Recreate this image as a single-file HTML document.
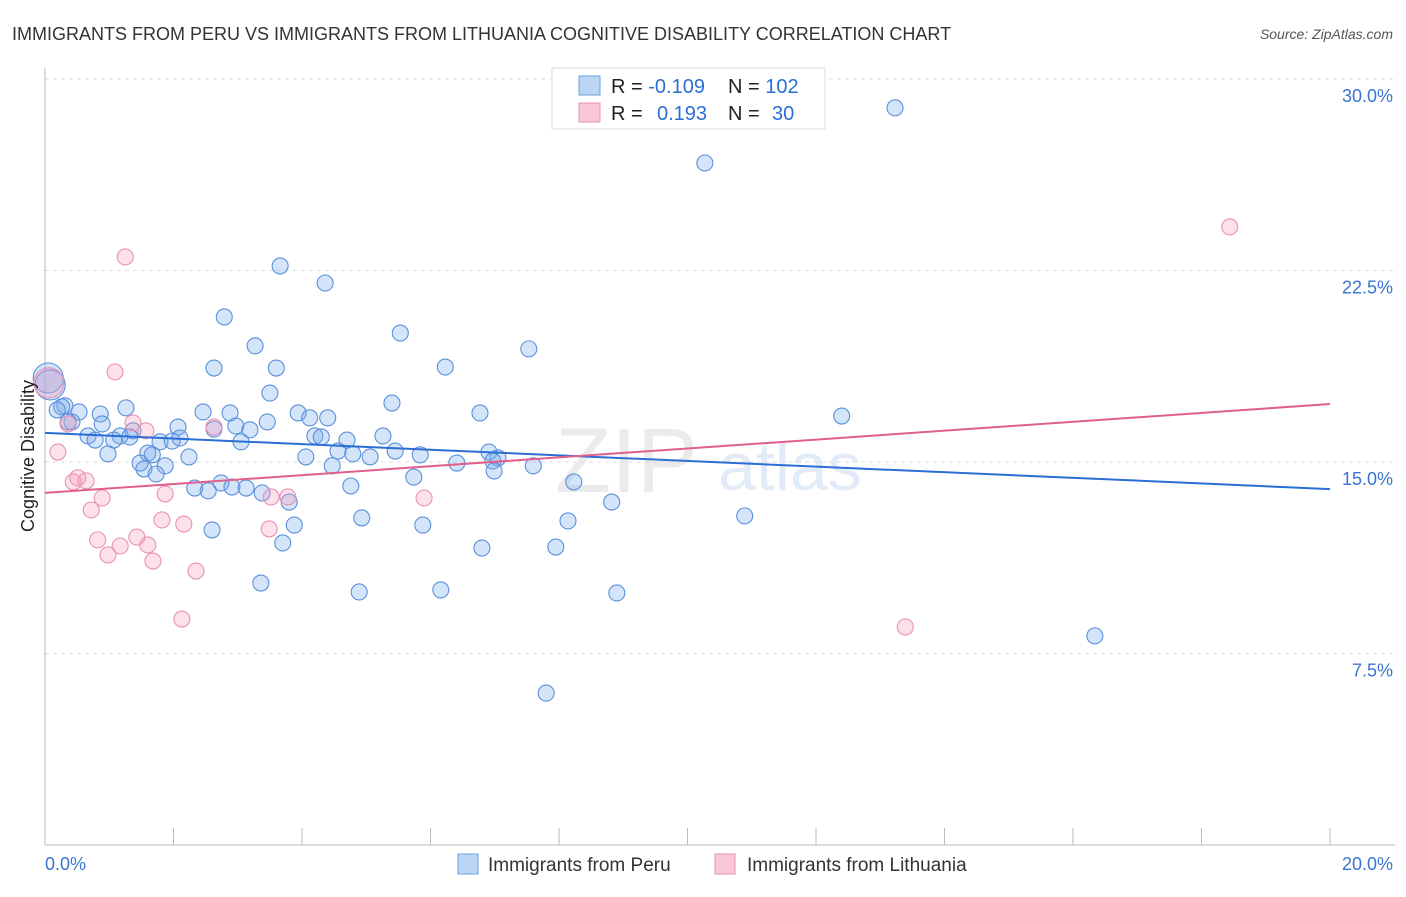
<!DOCTYPE html>
<html><head><meta charset="utf-8"><style>
body{margin:0;background:#fff;font-family:"Liberation Sans",sans-serif}
svg text{font-family:"Liberation Sans",sans-serif}
</style></head><body>
<svg id="chart" width="1406" height="892" viewBox="0 0 1406 892">
<text x="12" y="40" font-size="18" fill="#333">IMMIGRANTS FROM PERU VS IMMIGRANTS FROM LITHUANIA COGNITIVE DISABILITY CORRELATION CHART</text>
<text x="1393" y="39" font-size="14" fill="#555" font-style="italic" text-anchor="end">Source: ZipAtlas.com</text>
<g opacity="0.5">
<text x="555" y="492" font-size="92" fill="#d8d8d8" font-family="Liberation Serif">ZIP</text>
<text x="718" y="490" font-size="68" fill="#c6daf2">atlas</text>
</g>
<g id="grid"></g>
<g id="axes"></g>
<g id="points"></g>
<g id="trends"></g>
<g>
<rect x="552" y="68" width="273" height="61" fill="#fff" stroke="#ddd"/>
<rect x="579" y="76" width="21" height="19" fill="#bcd5f5" stroke="#6a9ee0"/>
<rect x="579" y="103" width="21" height="19" fill="#f8c8d6" stroke="#e890ae"/>
<text x="611" y="93" font-size="20" fill="#222">R = <tspan fill="#2a6fd6">-0.109</tspan></text>
<text x="728" y="93" font-size="20" fill="#222">N = <tspan fill="#2a6fd6">102</tspan></text>
<text x="611" y="120" font-size="20" fill="#222">R = <tspan fill="#2a6fd6" x="657">0.193</tspan></text>
<text x="728" y="120" font-size="20" fill="#222">N = <tspan fill="#2a6fd6" x="772">30</tspan></text>
</g>
<g>
<rect x="458" y="854" width="20" height="20" fill="#bcd5f5" stroke="#6a9ee0"/>
<text x="488" y="871" font-size="19" fill="#333">Immigrants from Peru</text>
<rect x="715" y="854" width="20" height="20" fill="#f8c8d6" stroke="#e890ae"/>
<text x="747" y="871" font-size="19" fill="#333">Immigrants from Lithuania</text>
</g>
<text transform="translate(34,456) rotate(-90)" font-size="18" fill="#222" text-anchor="middle">Cognitive Disability</text>
</svg>
<script>
const peruX=[13.23,10.27,3.66,4.36,2.79,5.53,3.27,7.53,2.63,3.60,6.23,3.50,5.40,1.26,0.31,0.53,0.86,6.77,12.40,2.88,2.46,3.94,4.12,4.40,3.46,2.97,2.07,2.63,3.19,0.42,0.89,1.37,1.17,0.67,0.78,1.07,1.79,1.98,2.10,3.05,4.20,4.30,4.70,5.26,1.32,0.98,1.60,1.67,2.24,4.06,4.56,4.79,5.06,5.45,5.84,6.91,7.05,6.97,6.41,7.60,1.48,1.87,1.54,1.73,4.47,5.74,6.99,8.23,4.76,2.74,2.33,2.54,2.91,3.13,3.38,3.80,8.82,10.89,4.93,8.14,3.88,5.88,2.60,3.70,6.80,7.95,3.36,4.89,6.16,8.90,16.34,7.80,0.26,0.36,0.19,0.05,0.08];
const peruY=[28.87,26.71,22.68,22.01,20.68,20.05,19.55,19.43,18.68,18.68,18.72,17.70,17.31,17.12,17.20,16.96,16.88,16.92,16.80,16.92,16.96,16.92,16.73,16.73,16.57,16.41,16.37,16.29,16.26,16.57,16.49,16.22,16.02,16.02,15.86,15.86,15.79,15.82,15.94,15.79,16.02,15.98,15.86,16.02,15.98,15.32,15.35,15.28,15.20,15.20,15.43,15.32,15.20,15.43,15.28,15.39,15.16,15.04,14.96,14.85,14.96,14.85,14.73,14.53,14.85,14.41,14.65,14.22,14.06,14.18,13.98,13.87,14.02,13.98,13.79,13.43,13.43,12.89,12.81,12.69,12.53,12.53,12.34,11.83,11.63,11.67,10.26,9.91,9.99,9.87,8.19,5.95,17.16,16.57,17.04,18.29,18.02];
const peruBig=[95,96];
const lithX=[1.25,18.44,1.09,0.06,1.37,1.57,2.63,0.36,0.20,0.51,0.44,0.64,0.89,1.87,3.52,3.78,5.90,0.72,1.82,2.16,3.49,0.82,1.43,1.17,1.60,0.98,1.68,2.35,2.13,13.39];
const lithY=[23.03,24.21,18.53,18.10,16.53,16.22,16.37,16.49,15.39,14.38,14.22,14.26,13.59,13.75,13.63,13.63,13.59,13.12,12.73,12.57,12.38,11.95,12.06,11.71,11.75,11.36,11.12,10.73,8.85,8.54];
const lithBig=[3];
const peruTrend=[16.14,13.94];
const lithTrend=[13.79,17.27];
const yTicks=[7.5,15,22.5,30];
const yTickLabels=["7.5%","15.0%","22.5%","30.0%"];
const xTicks=[0,2,4,6,8,10,12,14,16,18,20];

const NS="http://www.w3.org/2000/svg";
const X=v=>45+v*(1285/20);
const Y=v=>845-v*(766/30);
function mk(tag,attrs,parent){const e=document.createElementNS(NS,tag);for(const k in attrs)e.setAttribute(k,attrs[k]);parent.appendChild(e);return e;}
const grid=document.getElementById('grid'),axes=document.getElementById('axes'),pts=document.getElementById('points'),tr=document.getElementById('trends');
yTicks.forEach((t,i)=>{
 const l=mk('line',{x1:45,x2:1395,y1:Y(t),y2:Y(t),stroke:'#ddd','stroke-dasharray':'4,4'},grid);
 
 
 const tx=mk('text',{x:1393,y:Y(t)+23,'font-size':18,fill:'#3a74d0','text-anchor':'end'},grid);
 tx.textContent=yTickLabels[i];
 
 
});
const ya=mk('line',{x1:45,x2:45,y1:68,y2:845,stroke:'#bbb'},axes);


const xa=mk('line',{x1:45,x2:1395,y1:845,y2:845,stroke:'#bbb'},axes);


xTicks.forEach(t=>{
 const l=mk('line',{x1:X(t),x2:X(t),y1:828,y2:845,stroke:'#bbb'},axes);
 
 
});
const xl0=mk('text',{x:45,y:870,'font-size':18,fill:'#3a74d0'},axes);xl0.textContent=xTicks[0].toFixed(1)+'%';


const xl1=mk('text',{x:1393,y:870,'font-size':18,fill:'#3a74d0','text-anchor':'end'},axes);xl1.textContent=xTicks[xTicks.length-1].toFixed(1)+'%';


peruX.forEach((v,i)=>{
 const c=mk('circle',{cx:X(v),cy:Y(peruY[i]),r:peruBig.includes(i)?15:8,fill:'rgba(120,170,235,0.32)',stroke:'#5a90dc','stroke-width':1.1},pts);
 
 
});
lithX.forEach((v,i)=>{
 const c=mk('circle',{cx:X(v),cy:Y(lithY[i]),r:lithBig.includes(i)?15:8,fill:'rgba(245,160,190,0.32)',stroke:'#e892b2','stroke-width':1.1},pts);
 
 
});
const pl=mk('line',{x1:X(0),x2:X(20),y1:Y(peruTrend[0]),y2:Y(peruTrend[1]),stroke:'#2a6fd6','stroke-width':2},tr);


const ll=mk('line',{x1:X(0),x2:X(20),y1:Y(lithTrend[0]),y2:Y(lithTrend[1]),stroke:'#e0608c','stroke-width':2},tr);


</script>
</body></html>
